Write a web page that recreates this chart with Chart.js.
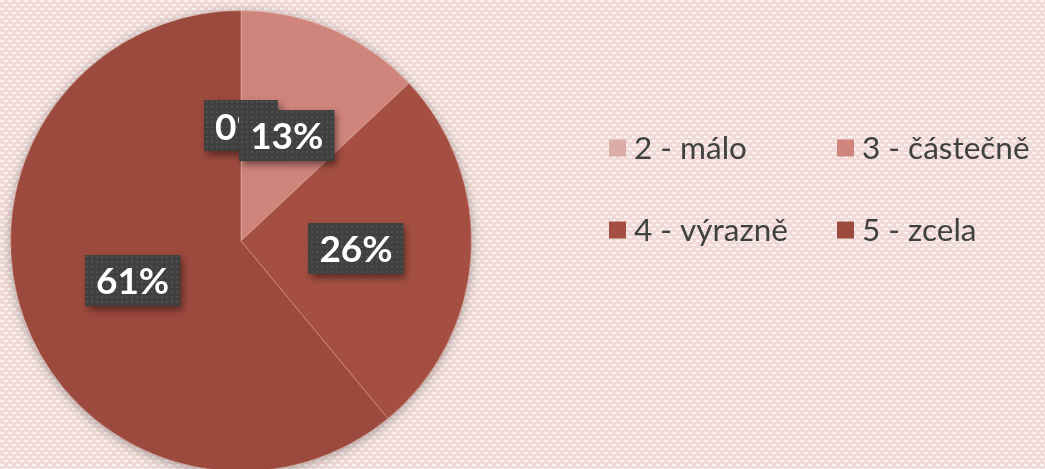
<!DOCTYPE html>
<html>
<head>
<meta charset="utf-8">
<script src="https://cdn.jsdelivr.net/npm/chart.js@4.4.1/dist/chart.umd.min.js"></script>
<style>
  html, body { margin: 0; padding: 0; width: 1045px; height: 469px; overflow: hidden; }
  #wrap { position: relative; width: 1045px; height: 482px; }
  canvas { display: block; }
</style>
</head>
<body>
<div id="wrap"><canvas id="c" width="1045" height="482"></canvas></div>
<script>
// Share of answers per rating level
const categories = ['2 - málo', '3 - částečně', '4 - výrazně', '5 - zcela'];
const shares = [0, 13, 26, 61];
const sliceColors = ['#dcaca7', '#cf847c', '#a44f42', '#9d4a3e'];

// Tiled textures: brick-dash paper background and dotted label boxes
function makePattern(w, h, base, dot, rects) {
  const t = document.createElement('canvas');
  t.width = w; t.height = h;
  const g = t.getContext('2d');
  g.fillStyle = base; g.fillRect(0, 0, w, h);
  g.fillStyle = dot;
  rects.forEach(r => g.fillRect(r[0], r[1], r[2], r[3]));
  return g.createPattern(t, 'repeat');
}

const paperPlugin = {
  id: 'paper',
  beforeDraw(chart) {
    const ctx = chart.ctx;
    const pat = makePattern(8, 8, '#efdad7', '#fbf2f1', [[0, 0, 4, 2], [4, 4, 4, 2]]);
    ctx.save();
    ctx.fillStyle = pat;
    ctx.fillRect(0, 0, chart.width, chart.height);
    ctx.restore();
  }
};

// Soft halo under the pie
const pieShadowPlugin = {
  id: 'pieShadow',
  beforeDatasetsDraw(chart) {
    const arc = chart.getDatasetMeta(0).data[0];
    if (!arc) return;
    const ctx = chart.ctx;
    ctx.save();
    ctx.shadowColor = 'rgba(0,0,0,0.35)';
    ctx.shadowBlur = 12;
    ctx.shadowOffsetX = 0;
    ctx.shadowOffsetY = 2;
    ctx.fillStyle = sliceColors[3];
    ctx.beginPath();
    ctx.arc(arc.x, arc.y, arc.outerRadius - 0.5, 0, Math.PI * 2);
    ctx.fill();
    ctx.restore();
  }
};

// Percentage labels on dark dotted boxes
const valueBoxPlugin = {
  id: 'valueBoxes',
  afterDatasetsDraw(chart) {
    const ctx = chart.ctx;
    const meta = chart.getDatasetMeta(0);
    const values = chart.data.datasets[0].data;
    const boxPat = makePattern(5, 5, '#404040', '#4f4f4f', [[1, 1, 2, 2]]);
    ctx.save();
    ctx.font = 'bold 37px Lato, "Open Sans", sans-serif';
    ctx.textAlign = 'center';
    ctx.textBaseline = 'middle';
    meta.data.forEach((arc, i) => {
      const p = arc.getCenterPoint();
      const txt = values[i] + '%';
      const w = ctx.measureText(txt).width + 22;
      const h = 51;
      const x = Math.round(p.x - w / 2);
      const y = Math.round(p.y - h / 2);
      ctx.save();
      ctx.shadowColor = 'rgba(0,0,0,0.45)';
      ctx.shadowBlur = 7;
      ctx.shadowOffsetX = 3;
      ctx.shadowOffsetY = 4;
      ctx.fillStyle = '#404040';
      ctx.fillRect(x, y, w, h);
      ctx.restore();
      ctx.fillStyle = boxPat;
      ctx.fillRect(x, y, w, h);
      ctx.fillStyle = '#ffffff';
      ctx.fillText(txt, p.x, p.y + 2);
    });
    ctx.restore();
  }
};

// Two-column legend at the right
const legendGridPlugin = {
  id: 'legendGrid',
  afterDraw(chart) {
    const ctx = chart.ctx;
    const labels = chart.data.labels;
    const colors = chart.data.datasets[0].backgroundColor;
    const colX = [609, 837];
    const rowY = [148, 230];
    const sq = 17;
    ctx.save();
    ctx.font = '31.5px Lato, "Open Sans", sans-serif';
    ctx.textAlign = 'left';
    ctx.textBaseline = 'middle';
    labels.forEach((lab, i) => {
      const cx = colX[i % 2];
      const cy = rowY[Math.floor(i / 2)];
      ctx.fillStyle = colors[i];
      ctx.fillRect(cx, cy - sq / 2, sq, sq);
      ctx.fillStyle = '#404040';
      ctx.fillText(lab, cx + 25, cy + 1);
    });
    ctx.restore();
  }
};

new Chart(document.getElementById('c'), {
  type: 'pie',
  data: {
    labels: categories,
    datasets: [{
      data: shares,
      backgroundColor: sliceColors,
      borderColor: 'rgba(255,225,215,0.35)',
      borderWidth: 1
    }]
  },
  options: {
    responsive: false,
    animation: false,
    layout: { padding: { left: 10, top: 10, right: 573, bottom: 10 } },
    plugins: {
      legend: { display: false },
      tooltip: { enabled: false }
    }
  },
  plugins: [paperPlugin, pieShadowPlugin, valueBoxPlugin, legendGridPlugin]
});
</script>
</body>
</html>
